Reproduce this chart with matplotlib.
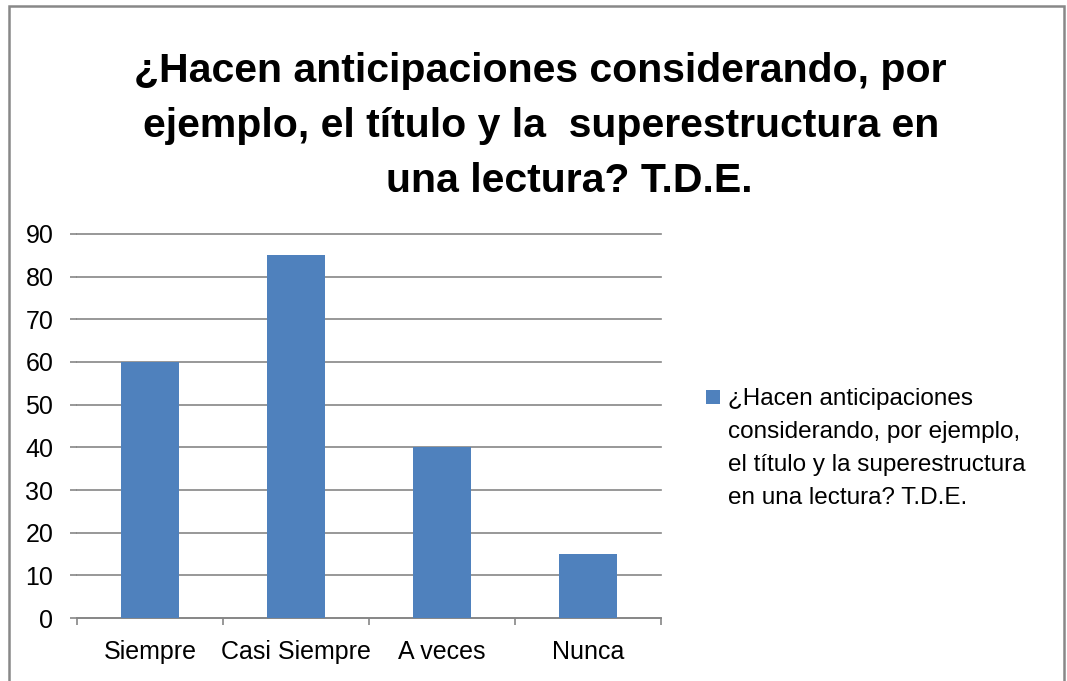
import matplotlib
matplotlib.use("Agg")
import matplotlib.pyplot as plt
from matplotlib.patches import Rectangle

# Data
categories = ["Siempre", "Casi Siempre", "A veces", "Nunca"]
values = [60, 85, 40, 15]
title_lines = ["¿Hacen anticipaciones considerando, por",
               "ejemplo, el título y la  superestructura en",
               "una lectura? T.D.E."]
legend_lines = ["¿Hacen anticipaciones",
                "considerando, por ejemplo,",
                "el título y la superestructura",
                "en una lectura? T.D.E."]
yticks = list(range(0, 91, 10))

plt.rcParams['font.family'] = ['Liberation Sans', 'DejaVu Sans']

W, H = 1067, 681
fig = plt.figure(figsize=(W / 100, H / 100), dpi=100)
ax = fig.add_axes([77 / W, 1 - 618 / H, 584 / W, 384 / H])

bar_color = "#4F81BD"
grid_color = "#868686"

x = range(len(categories))
ax.bar(x, values, width=0.4, color=bar_color, zorder=3)

ax.set_xlim(-0.5, len(categories) - 0.5)
ax.set_ylim(0, 90)
ax.set_yticks(yticks)
ax.set_yticklabels([str(v) for v in yticks])
ax.yaxis.grid(True, color=grid_color, linewidth=1.2, zorder=0)
ax.set_axisbelow(True)
for gl in ax.get_ygridlines():
    gl.set_clip_on(False)
for t in ax.yaxis.get_major_ticks():
    t.tick1line.set_clip_on(False)

for s in ["left", "right", "top"]:
    ax.spines[s].set_visible(False)
ax.spines["bottom"].set_color(grid_color)
ax.spines["bottom"].set_linewidth(1.2)

ax.set_xticks(list(x))
ax.set_xticklabels(categories)
ax.set_xticks([i - 0.5 for i in range(len(categories) + 1)], minor=True)
ax.tick_params(axis="x", which="major", length=0, pad=16, labelsize=18)
ax.tick_params(axis="x", which="minor", length=5, width=1.2, color=grid_color, direction="out")
ax.tick_params(axis="y", length=5, width=1.2, color=grid_color, pad=12, labelsize=18)

# title, one line at a time
title_x = [540, 541, 569]
title_base = [82, 137, 192]
for line, tx, ty in zip(title_lines, title_x, title_base):
    fig.text(tx / W, 1 - ty / H, line, ha="center", va="baseline",
             fontsize=29.5, fontweight="bold")

# legend
fig.patches.append(Rectangle((706 / W, 1 - 404 / H), 14 / W, 14 / H,
                             transform=fig.transFigure, facecolor=bar_color,
                             edgecolor="none"))
for i, line in enumerate(legend_lines):
    fig.text(728 / W, 1 - (405 + 33 * i) / H, line, ha="left", va="baseline",
             fontsize=17.5)

# outer border
fig.patches.append(Rectangle((9 / W, -0.02), 1055 / W, 1.02 - 6 / H,
                             transform=fig.transFigure, facecolor="none",
                             edgecolor="#888888", linewidth=1.8))

fig.savefig("out.png", dpi=100)
